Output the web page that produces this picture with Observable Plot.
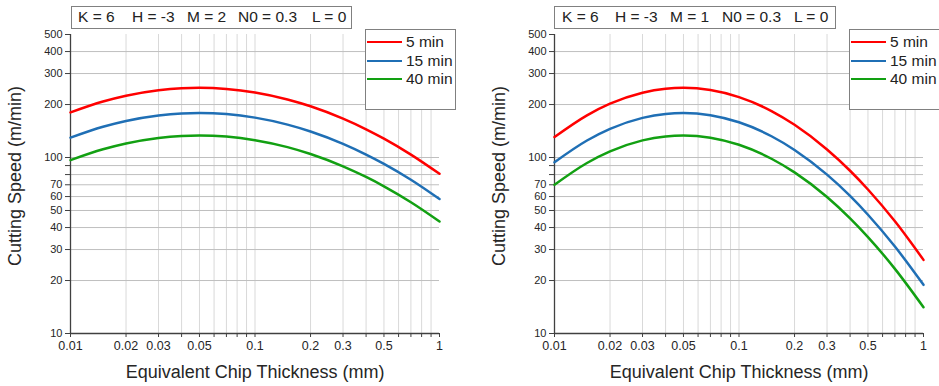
<!DOCTYPE html>
<html>
<head>
<meta charset="utf-8">
<script src="https://cdn.jsdelivr.net/npm/d3@7"></script>
<script src="https://cdn.jsdelivr.net/npm/@observablehq/plot@0.6"></script>
<style>
  html, body { margin: 0; padding: 0; background: #fff; }
  #wrap { position: relative; width: 939px; height: 386px; overflow: hidden; background: #fff;
          font-family: "Liberation Sans", Arial, sans-serif; color: #222; }
  .panel { position: absolute; top: 0; }
  .box { position: absolute; background: #fff; border: 1px solid #808080; box-sizing: border-box; }
  .t { position: absolute; font-size: 15.5px; line-height: 16px; white-space: pre; color: #222; }
  .sw { position: absolute; height: 0; border-top: 2.5px solid; width: 35px; }
</style>
</head>
<body>
<div id="wrap"></div>
<script>
// ---- data ----
const thickness = [0.01, 0.015, 0.02, 0.03, 0.04, 0.05, 0.07, 0.1, 0.15, 0.2, 0.3, 0.4, 0.5, 0.7, 1];
const seriesNames = ["5 min", "15 min", "40 min"];
const seriesColors = ["#ff0000", "#1f6fb5", "#12a012"];

// Panel 1: K=6 H=-3 M=2 N0=0.3 L=0
const m2_5min  = [180.4, 208.0, 224.4, 241.1, 247.5, 249.0, 245.4, 234.3, 213.8, 195.5, 166.3, 144.7, 128.0, 103.9, 80.8];
const m2_15min = [129.7, 149.6, 161.4, 173.4, 178.0, 179.0, 176.5, 168.5, 153.8, 140.6, 119.6, 104.0, 92.1, 74.8, 58.1];
const m2_40min = [96.7, 111.4, 120.2, 129.2, 132.6, 133.4, 131.5, 125.5, 114.6, 104.7, 89.1, 77.5, 68.6, 55.7, 43.3];

// Panel 2: K=6 H=-3 M=1 N0=0.3 L=0
const m1_5min  = [130.7, 173.7, 202.2, 233.5, 246.0, 249.0, 241.8, 220.4, 183.7, 153.5, 111.1, 84.1, 65.8, 43.4, 26.2];
const m1_15min = [94.0, 124.9, 145.4, 167.9, 176.9, 179.0, 173.9, 158.5, 132.1, 110.4, 79.9, 60.5, 47.3, 31.2, 18.9];
const m1_40min = [70.0, 93.1, 108.3, 125.1, 131.8, 133.4, 129.6, 118.1, 98.4, 82.3, 59.6, 45.1, 35.3, 23.3, 14.1];

const titleParts1 = ["K = 6", "H = -3", "M = 2", "N0 = 0.3", "L = 0"];
const titleParts2 = ["K = 6", "H = -3", "M = 1", "N0 = 0.3", "L = 0"];

const xTicksAll = [0.01, 0.02, 0.03, 0.04, 0.05, 0.06, 0.07, 0.08, 0.09, 0.1, 0.2, 0.3, 0.4, 0.5, 0.6, 0.7, 0.8, 0.9, 1];
const xTickLabels = [0.01, 0.02, 0.03, 0.05, 0.1, 0.2, 0.3, 0.5, 1];
const yTicksAll = [10, 20, 30, 40, 50, 60, 70, 80, 90, 100, 200, 300, 400, 500];
const yTickLabels = [10, 20, 30, 40, 50, 60, 70, 100, 200, 300, 400, 500];
const yGrid = [20, 30, 40, 50, 60, 70, 80, 90, 100, 200, 300, 400];
const xGrid = [0.02, 0.03, 0.04, 0.05, 0.06, 0.07, 0.08, 0.09, 0.1, 0.2, 0.3, 0.4, 0.5, 0.6, 0.7, 0.8, 0.9];

const xTitle = "Equivalent Chip Thickness (mm)";
const yTitle = "Cutting Speed (m/min)";

function makeRows(seriesArrays) {
  const rows = [];
  seriesArrays.forEach((vals, i) => {
    thickness.forEach((h, j) => rows.push({h, v: vals[j], s: seriesNames[i]}));
  });
  return rows;
}

function makePlot(seriesArrays, width, marginRight) {
  const rows = makeRows(seriesArrays);
  return Plot.plot({
    width, height: 386,
    marginLeft: 70, marginRight, marginTop: 34, marginBottom: 53,
    style: {fontFamily: "'Liberation Sans', Arial, sans-serif", fontSize: "12px", color: "#262626", background: "transparent"},
    x: {type: "log", domain: [0.01, 1]},
    y: {type: "log", domain: [10, 500]},
    color: {domain: seriesNames, range: seriesColors},
    marks: [
      Plot.ruleX(xGrid, {stroke: "#d9d9d9", strokeWidth: 1}),
      Plot.ruleY(yGrid, {stroke: "#bfbfbf", strokeWidth: 1}),
      Plot.axisX({ticks: xTicksAll, tickSize: 4, tickPadding: 4, label: null, stroke: "#404040",
                  fontSize: 12.5, tickFormat: d => xTickLabels.includes(d) ? String(d) : ""}),
      Plot.axisY({ticks: yTicksAll, tickSize: 5, tickPadding: 3, label: null, stroke: "#404040",
                  fontSize: 11, tickFormat: d => yTickLabels.includes(d) ? String(d) : ""}),
      Plot.ruleX([0.01], {stroke: "#404040", strokeWidth: 1.3}),
      Plot.ruleY([10], {stroke: "#404040", strokeWidth: 1.3}),
      Plot.line(rows, {x: "h", y: "v", z: "s", stroke: "s", strokeWidth: 2.5, curve: "monotone-x"}),
      Plot.text([xTitle], {frameAnchor: "bottom", textAnchor: "middle", lineAnchor: "middle", dy: 39, fontSize: 18, fill: "#262626"}),
      Plot.text([yTitle], {frameAnchor: "left", textAnchor: "middle", lineAnchor: "middle", rotate: -90, dx: -55, dy: -8, fontSize: 18, fill: "#262626"})
    ]
  });
}

const wrap = document.getElementById("wrap");

function addPanel(left, seriesArrays, width, marginRight) {
  const div = document.createElement("div");
  div.className = "panel";
  div.style.left = left + "px";
  div.appendChild(makePlot(seriesArrays, width, marginRight));
  wrap.appendChild(div);
}

function addTitleBox(boxLeft, boxWidth, parts, partLefts) {
  const box = document.createElement("div");
  box.className = "box";
  Object.assign(box.style, {left: boxLeft + "px", top: "6px", width: boxWidth + "px", height: "23px"});
  wrap.appendChild(box);
  parts.forEach((p, i) => {
    const s = document.createElement("div");
    s.className = "t";
    s.textContent = p;
    Object.assign(s.style, {left: partLefts[i] + "px", top: "9px"});
    wrap.appendChild(s);
  });
}

function addLegend(left, width) {
  const box = document.createElement("div");
  box.className = "box";
  Object.assign(box.style, {left: left + "px", top: "29px", width: width + "px", height: "81px"});
  wrap.appendChild(box);
  const ys = [42, 61, 79];
  seriesNames.forEach((name, i) => {
    const sw = document.createElement("div");
    sw.className = "sw";
    Object.assign(sw.style, {left: (left + 2) + "px", top: (ys[i] - 1) + "px", borderTopColor: seriesColors[i]});
    wrap.appendChild(sw);
    const t = document.createElement("div");
    t.className = "t";
    t.textContent = name;
    Object.assign(t.style, {left: (left + 41) + "px", top: (ys[i] - 8) + "px"});
    wrap.appendChild(t);
  });
}

addPanel(0, [m2_5min, m2_15min, m2_40min], 470, 31);
addPanel(484, [m1_5min, m1_15min, m1_40min], 455, 16);
addTitleBox(71, 281, titleParts1, [78, 132, 187, 238, 312]);
addTitleBox(554, 282, titleParts2, [562, 615, 670, 722, 794]);
addLegend(365, 91);
addLegend(849, 100);
</script>
</body>
</html>
